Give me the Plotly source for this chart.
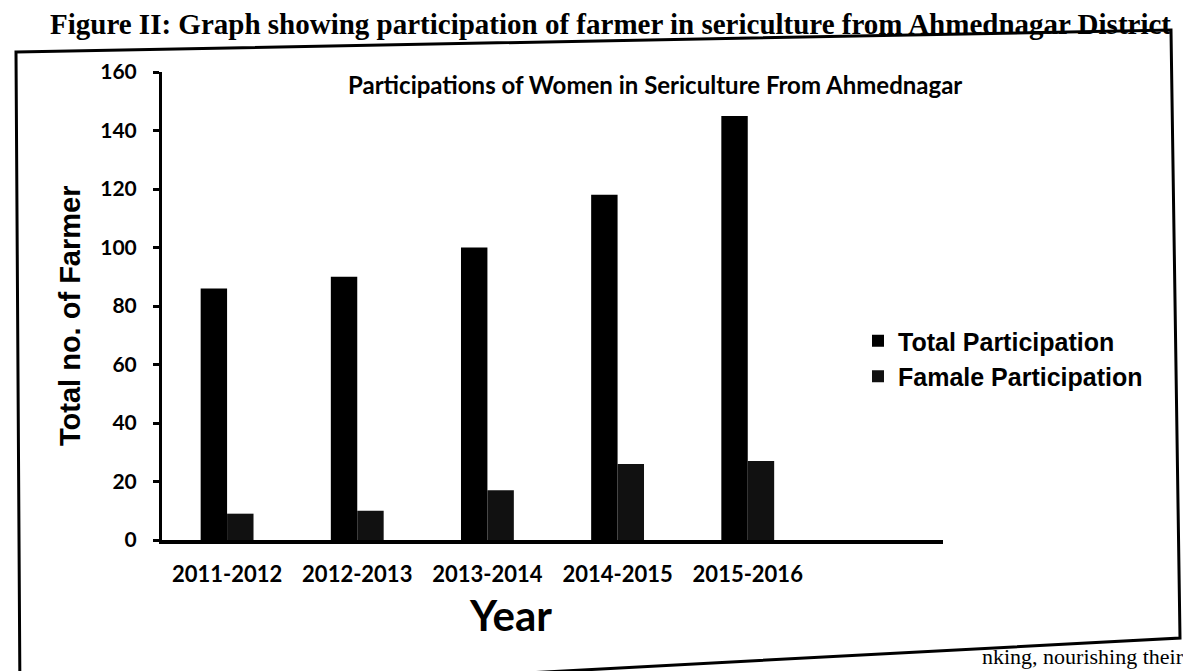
import plotly.graph_objects as go

years = ["2011-2012", "2012-2013", "2013-2014", "2014-2015", "2015-2016"]
total_participation = [86, 90, 100, 118, 145]
female_participation = [9, 10, 17, 26, 27]
y_ticks = [0, 20, 40, 60, 80, 100, 120, 140, 160]

W, H = 1191, 671
OFF = 8  # page offset of the figure inside the browser window
L, T = 162 - OFF, 72 - OFF
B = H - (540 - OFF)
R = W - (943 - OFF)
PH = H - T - B
PW = W - L - R


def px(sx):
    return (sx - OFF - L) / PW


def py(sy):
    return (H - B - (sy - OFF)) / PH


fig = go.Figure()
fig.add_trace(go.Bar(
    x=list(range(len(years))), y=total_participation, name="Total Participation",
    marker=dict(color="#000000", line=dict(width=0)), legendgroup="t",
))
fig.add_trace(go.Bar(
    x=list(range(len(years))), y=female_participation, name="Famale Participation",
    marker=dict(color="#111111", line=dict(width=0)), legendgroup="f",
))

fig.update_layout(
    width=W, height=H,
    margin=dict(l=L, r=R, t=T, b=B),
    paper_bgcolor="white", plot_bgcolor="white",
    barmode="group", bargap=0.594, bargroupgap=0,
    showlegend=True,
    legend=dict(
        x=px(858), y=py(318), xanchor="left", yanchor="top",
        font=dict(family="Liberation Sans", size=25, color="black", weight="bold"),
        bgcolor="rgba(0,0,0,0)", tracegroupgap=0, itemwidth=30,
    ),
    font=dict(family="Lato", color="black"),
)

fig.update_xaxes(
    range=[-0.5, 5.5],
    tickvals=list(range(len(years))), ticktext=years,
    tickfont=dict(family="Lato", size=22, color="black", weight="bold"),
    showline=True, linecolor="black", linewidth=4,
    ticks="", showgrid=False, zeroline=False,
    ticklabelstandoff=12,
)
fig.update_yaxes(
    range=[0, 160], tickvals=y_ticks,
    tickfont=dict(family="Lato", size=21, color="black", weight="bold"),
    showline=True, linecolor="black", linewidth=3,
    ticks="outside", ticklen=6, tickwidth=3, tickcolor="black",
    showgrid=False, zeroline=False,
    ticklabelstandoff=12,
)

# Chart title
fig.add_annotation(
    text="<b>Participations of Women in Sericulture From Ahmednagar</b>",
    xref="paper", yref="paper", x=px(655), y=py(84), xanchor="center", yanchor="middle",
    showarrow=False, font=dict(family="Lato", size=24, color="black"),
)
# Y axis title
fig.add_annotation(
    text="<b>Total no. of Farmer</b>",
    xref="paper", yref="paper", x=px(70), y=py(316), xanchor="center", yanchor="middle",
    textangle=-90, showarrow=False,
    font=dict(family="Liberation Sans", size=29, color="black"),
)
# X axis title
fig.add_annotation(
    text="<b>Year</b>",
    xref="paper", yref="paper", x=px(510), y=py(615), xanchor="center", yanchor="middle",
    showarrow=False, font=dict(family="Lato", size=42, color="black"),
)
# Page caption
fig.add_annotation(
    text="<b>Figure II: Graph showing participation of farmer in sericulture from Ahmednagar District</b>",
    xref="paper", yref="paper", x=px(48), y=py(24), xanchor="left", yanchor="middle",
    showarrow=False, font=dict(family="Liberation Serif", size=29, color="black"),
)
# Page body fragment
fig.add_annotation(
    text="nking, nourishing their",
    xref="paper", yref="paper", x=px(1186), y=py(656),
    xanchor="right", yanchor="middle",
    showarrow=False, font=dict(family="Liberation Serif", size=22, color="black"),
)

# Frame border (slightly skewed like the scanned page)
corners = [(16, 52), (1171, 30), (1180, 638), (20, 700)]
path = "M " + " L ".join(f"{px(x):.5f},{py(y):.5f}" for x, y in corners) + " Z"
fig.add_shape(
    type="path", xref="paper", yref="paper", path=path,
    line=dict(color="black", width=3), fillcolor="rgba(0,0,0,0)", layer="below",
)

fig.write_html("out.html")
